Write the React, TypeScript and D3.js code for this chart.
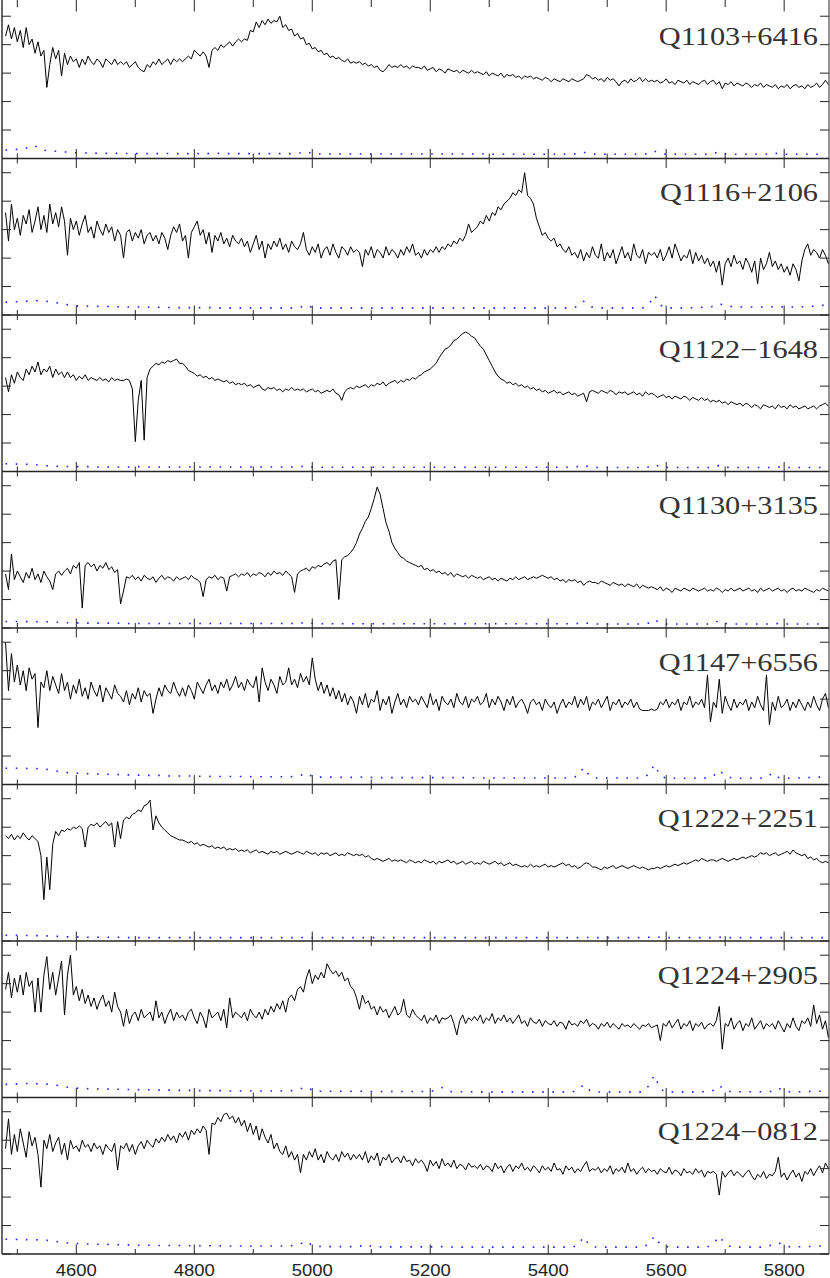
import React from 'react';
import * as d3 from 'd3';

const WIDTH = 830;
const HEIGHT = 1278;
const FLUX_START = 4480;
const FLUX_STEP = 5;
const ERR_START = 4480;
const ERR_STEP = 10;

const labels = ['Q1103+6416', 'Q1116+2106', 'Q1122\u22121648', 'Q1130+3135', 'Q1147+6556', 'Q1222+2251', 'Q1224+2905', 'Q1224\u22120812'];
const xTickLabels = [4600, 4800, 5000, 5200, 5400, 5600, 5800];
const yTickValues = [0, 1, 2, 3, 4, 5];

const flux_Q1103 = [
  4.3,4.7,4.2,4.6,4.1,4.5,3.9,4.6,4.0,4.2,3.7,4.1,3.6,3.8,2.5,3.3,3.9,3.5,3.8,2.9,
  3.7,3.3,3.6,3.4,3.5,3.2,3.5,3.3,3.6,3.4,3.3,3.5,3.4,3.2,3.5,3.4,3.3,3.5,3.3,3.4,
  3.3,3.4,3.2,3.3,3.4,3.2,3.1,3.05,3.3,3.2,3.4,3.3,3.5,3.3,3.4,3.5,3.3,3.5,3.4,3.5,
  3.4,3.5,3.6,3.5,3.8,3.7,3.6,3.75,3.6,3.2,3.8,3.9,3.8,4.0,3.9,4.0,4.1,3.95,4.1,4.2,
  4.1,4.2,4.15,4.5,4.45,4.8,4.6,4.85,4.7,4.9,4.75,4.85,4.8,5.0,4.6,4.7,4.5,4.55,4.3,4.4,
  4.2,4.25,4.0,4.05,3.85,3.9,3.75,3.8,3.65,3.7,3.55,3.6,3.5,3.55,3.45,3.4,3.5,3.35,3.4,3.35,
  3.4,3.3,3.35,3.25,3.3,3.2,3.25,3.1,3.05,3.15,3.3,3.2,3.25,3.2,3.3,3.2,3.25,3.15,3.25,3.2,
  3.2,3.15,3.25,3.1,3.15,3.2,3.05,3.15,3.1,3.0,3.15,3.1,3.05,3.1,3.0,3.1,3.05,3.0,3.1,3.0,
  3.05,3.0,2.95,3.05,2.9,3.0,2.95,2.9,3.0,2.85,2.95,2.9,2.95,2.85,2.9,2.8,2.9,2.85,2.9,2.8,
  2.85,2.8,2.75,2.85,2.8,2.7,2.8,2.75,2.7,2.8,2.75,2.7,2.8,2.75,2.7,2.75,2.8,2.95,2.9,2.8,
  2.85,2.75,2.8,2.7,2.85,2.75,2.8,2.7,2.55,2.7,2.75,2.65,2.8,2.7,2.75,2.85,2.7,2.8,2.7,2.75,
  2.7,2.75,2.65,2.7,2.8,2.65,2.7,2.6,2.75,2.7,2.65,2.75,2.6,2.7,2.65,2.6,2.7,2.75,2.6,2.7,
  2.75,2.6,2.7,2.45,2.65,2.6,2.7,2.55,2.65,2.6,2.55,2.65,2.6,2.5,2.6,2.55,2.65,2.5,2.6,2.55,
  2.5,2.6,2.45,2.55,2.5,2.6,2.45,2.55,2.6,2.5,2.55,2.45,2.6,2.5,2.55,2.65,2.5,2.6,2.75,2.6,
];

const flux_Q1116 = [
  3.6,2.6,3.9,3.0,3.4,2.8,3.5,3.2,3.7,2.9,3.3,3.8,3.0,3.5,2.9,3.9,3.2,3.6,3.1,3.8,
  3.3,2.1,3.4,3.0,3.3,2.8,3.2,3.5,2.9,3.1,2.7,3.3,3.0,2.8,3.2,2.9,3.1,2.6,3.0,2.8,
  2.0,2.9,3.0,2.6,2.9,2.7,3.0,2.5,2.8,2.9,2.6,2.8,2.5,2.9,2.7,2.3,2.8,3.1,2.9,3.2,
  2.6,2.8,2.0,2.9,3.1,3.3,2.8,3.0,2.5,2.9,2.2,2.8,2.6,2.9,2.5,2.7,2.4,2.8,2.6,2.5,
  2.7,2.4,2.6,2.2,2.5,2.8,2.3,2.6,2.0,2.5,2.3,2.6,2.4,2.7,2.3,2.5,2.2,2.6,2.4,2.3,
  2.5,2.9,2.3,2.1,2.4,2.2,2.5,2.0,2.3,2.4,2.1,2.5,2.2,2.0,2.4,2.3,2.1,2.4,2.2,2.3,
  2.2,1.7,2.3,2.1,2.4,2.0,2.3,2.2,2.0,2.4,2.1,2.3,2.2,2.0,2.3,2.1,2.4,2.2,2.5,2.1,
  2.2,2.0,2.3,2.1,2.3,2.2,2.4,2.2,2.4,2.3,2.5,2.4,2.6,2.5,2.7,2.6,2.8,3.2,2.9,3.0,
  3.1,3.3,3.2,3.5,3.3,3.6,3.5,3.8,3.7,3.9,4.0,4.1,4.3,4.2,4.4,4.3,5.0,4.2,4.1,3.9,
  3.4,3.1,2.8,2.9,2.7,2.6,2.7,2.4,2.5,2.3,2.2,2.4,2.1,2.2,2.0,2.3,1.9,2.2,2.0,2.4,
  2.1,2.0,2.5,1.9,2.2,2.0,2.3,1.8,2.1,2.4,2.0,2.2,1.9,2.5,2.1,2.0,2.3,1.8,2.2,2.1,
  2.2,2.0,2.3,1.9,2.1,2.4,2.0,2.5,2.2,1.9,2.1,2.0,2.3,1.8,2.2,1.9,2.1,1.8,2.0,1.7,
  1.9,1.5,1.9,1.05,1.8,2.0,1.7,2.1,1.8,1.9,1.6,2.0,1.8,1.5,1.9,1.1,2.0,1.6,1.8,2.2,
  1.7,1.9,1.6,1.8,1.5,1.7,1.4,1.8,1.6,1.2,1.9,2.3,2.5,2.1,2.3,2.2,2.0,2.3,2.1,1.8,
];

const flux_Q1122 = [
  3.3,2.8,3.4,3.1,3.5,3.3,3.2,3.6,3.4,3.7,3.5,3.85,3.4,3.6,3.5,3.7,3.3,3.6,3.4,3.5,
  3.3,3.5,3.3,3.4,3.2,3.35,3.25,3.4,3.2,3.3,3.25,3.2,3.3,3.2,3.25,3.15,3.3,3.2,3.25,3.2,
  3.2,3.25,3.2,2.9,1.05,2.5,3.2,1.1,3.3,3.6,3.7,3.8,3.75,3.85,3.8,3.9,3.85,3.9,3.95,3.8,
  3.8,3.7,3.55,3.5,3.45,3.35,3.4,3.3,3.35,3.25,3.3,3.2,3.25,3.2,3.15,3.2,3.1,3.15,3.05,3.1,
  3.05,3.1,3.0,3.05,2.95,3.0,3.05,2.9,2.85,2.95,2.9,2.95,2.85,2.9,2.8,2.9,2.85,2.95,2.85,2.9,
  2.85,2.9,2.8,2.85,2.9,2.8,2.85,2.75,2.8,2.85,2.8,2.9,2.75,2.7,2.5,2.8,2.9,2.95,2.9,3.0,
  2.95,3.0,3.05,2.95,3.05,3.0,3.1,3.05,3.15,3.0,3.1,3.15,3.2,3.1,3.2,3.15,3.25,3.2,3.3,3.25,
  3.35,3.4,3.5,3.55,3.6,3.7,3.8,4.0,4.15,4.3,4.35,4.45,4.6,4.65,4.75,4.85,4.9,4.85,4.75,4.7,
  4.55,4.4,4.3,4.1,3.9,3.7,3.5,3.35,3.25,3.2,3.1,3.15,3.05,3.1,3.0,3.05,2.95,3.0,2.9,2.95,
  2.85,2.9,2.8,2.85,2.75,2.8,2.85,2.75,2.8,2.7,2.75,2.8,2.7,2.75,2.65,2.7,2.75,2.45,2.8,2.85,
  2.8,2.75,2.85,2.8,2.75,2.85,2.8,2.7,2.8,2.75,2.8,2.7,2.75,2.8,2.7,2.75,2.65,2.8,2.7,2.75,
  2.7,2.6,2.65,2.7,2.6,2.65,2.55,2.65,2.6,2.55,2.65,2.6,2.5,2.6,2.55,2.5,2.6,2.5,2.55,2.45,
  2.5,2.45,2.5,2.4,2.45,2.35,2.45,2.4,2.35,2.4,2.3,2.4,2.35,2.25,2.35,2.3,2.2,2.35,2.3,2.25,
  2.3,2.2,2.35,2.25,2.3,2.2,2.35,2.25,2.3,2.2,2.25,2.3,2.2,2.25,2.3,2.2,2.3,2.35,2.4,2.3,
];

const flux_Q1130 = [
  1.9,1.35,2.6,1.7,2.0,1.8,1.6,1.95,1.75,2.1,1.7,1.9,1.6,2.0,1.8,1.65,1.35,1.9,2.0,1.85,
  2.0,2.1,1.9,2.2,2.1,2.3,0.7,2.2,2.3,2.15,2.25,2.0,2.2,2.1,2.3,2.05,2.15,1.95,2.05,0.85,
  1.3,1.8,1.75,1.85,1.7,1.8,1.65,1.85,1.75,1.7,1.8,1.6,1.75,1.85,1.7,1.8,1.75,1.65,1.8,1.7,
  1.75,1.8,1.7,1.85,1.75,1.7,1.6,1.1,1.7,1.8,1.75,1.85,1.7,1.8,1.75,1.3,1.8,1.85,1.9,1.8,
  1.9,1.85,1.95,1.8,1.9,1.85,1.95,1.9,1.8,1.95,1.85,2.0,1.9,1.95,1.85,2.0,1.9,1.8,1.25,1.9,
  2.0,2.05,2.1,2.0,2.15,2.1,2.2,2.15,2.25,2.3,2.2,2.35,2.4,1.0,2.4,2.5,2.55,2.65,2.8,3.0,
  3.3,3.5,3.75,3.9,4.2,4.55,4.95,4.7,4.2,3.7,3.4,3.0,2.8,2.65,2.5,2.45,2.35,2.3,2.25,2.2,
  2.15,2.2,2.05,2.1,2.0,2.05,1.95,2.0,1.9,1.95,1.85,1.95,1.8,1.9,1.85,1.8,1.85,1.75,1.85,1.8,
  1.75,1.8,1.7,1.75,1.8,1.7,1.75,1.65,1.75,1.7,1.65,1.75,1.7,1.8,1.7,1.75,1.8,1.7,1.75,1.8,
  1.75,1.8,1.85,1.8,1.75,1.8,1.7,1.75,1.65,1.7,1.6,1.7,1.65,1.7,1.6,1.65,1.5,1.6,1.65,1.6,
  1.6,1.55,1.65,1.6,1.55,1.5,1.6,1.55,1.5,1.55,1.45,1.55,1.5,1.45,1.55,1.4,1.5,1.45,1.4,1.45,
  1.4,1.35,1.45,1.3,1.4,1.35,1.25,1.4,1.35,1.3,1.4,1.35,1.3,1.4,1.35,1.3,1.35,1.4,1.3,1.35,
  1.3,1.4,1.35,1.25,1.35,1.3,1.4,1.3,1.35,1.4,1.3,1.35,1.4,1.3,1.35,1.25,1.4,1.3,1.35,1.4,
  1.3,1.35,1.4,1.3,1.35,1.25,1.35,1.4,1.3,1.35,1.3,1.4,1.35,1.3,1.25,1.35,1.3,1.4,1.35,1.3,
];

const flux_Q1147 = [
  5.0,3.3,4.6,3.6,4.2,3.5,4.0,3.3,4.1,3.7,3.9,2.0,3.6,3.4,4.0,3.3,3.8,3.5,3.2,3.9,
  3.3,3.6,3.0,3.5,3.2,3.7,3.1,3.4,3.0,3.6,3.3,3.1,3.5,2.9,3.4,3.2,3.0,3.5,3.2,3.1,
  2.9,3.3,2.8,3.2,3.0,3.4,2.9,3.3,3.1,3.2,2.5,3.0,3.4,3.1,3.5,3.3,3.2,3.6,3.3,3.1,
  3.4,3.1,3.5,3.3,3.0,3.6,3.4,3.2,3.5,3.7,3.3,3.5,3.2,3.6,3.4,3.7,3.3,3.5,3.8,3.4,
  3.6,3.3,3.7,3.5,3.4,3.8,2.9,4.1,3.6,3.3,3.7,3.5,3.2,3.8,3.5,3.6,4.1,3.5,3.7,3.4,
  3.9,3.6,3.8,3.5,4.45,3.7,3.3,3.6,3.2,3.5,3.1,3.4,3.0,3.3,2.9,3.2,2.8,3.1,2.9,2.5,
  3.1,2.8,3.2,2.7,3.0,2.9,3.3,2.6,3.0,2.8,3.1,2.5,2.9,3.2,2.8,3.0,2.7,3.1,2.9,3.0,
  2.8,3.1,2.9,2.7,3.2,2.8,3.0,2.6,3.1,2.9,2.8,3.0,2.7,3.2,2.9,2.8,3.1,2.7,3.0,2.9,
  3.1,2.8,2.9,3.2,2.7,3.0,2.8,3.1,2.9,2.6,3.0,2.8,3.1,2.7,2.9,3.0,2.8,2.5,2.9,3.0,
  2.8,2.9,2.6,3.0,2.8,2.7,2.9,2.5,2.8,3.0,2.7,2.9,2.8,3.1,2.7,3.0,2.8,3.1,2.6,2.9,
  2.8,3.0,2.7,2.9,3.1,2.6,2.9,2.8,3.0,2.7,2.9,2.8,3.0,2.7,2.9,2.65,2.6,2.6,2.6,2.65,
  2.6,2.65,2.9,2.8,3.0,2.7,2.9,2.8,3.0,2.6,2.9,2.8,3.1,2.7,2.9,2.8,3.0,2.7,3.85,2.2,
  2.9,2.7,3.7,2.5,3.1,2.8,2.6,3.0,2.7,2.9,2.8,3.0,2.6,2.9,2.7,3.1,2.8,2.6,3.85,2.1,
  2.9,2.6,3.1,2.7,2.8,3.0,2.6,2.9,2.7,3.0,2.8,2.6,2.9,2.7,3.1,2.8,2.6,3.0,3.2,2.7,
];

const flux_Q1222 = [
  3.7,3.6,3.75,3.55,3.7,3.6,3.8,3.65,3.55,3.7,3.6,3.5,3.0,1.45,2.95,1.8,3.4,3.85,3.7,3.9,
  3.85,3.95,3.9,4.0,3.95,4.05,3.95,3.3,4.0,4.1,4.05,4.15,4.0,4.1,4.2,4.05,4.15,3.3,4.2,3.6,
  4.25,4.35,4.3,4.45,4.5,4.6,4.55,4.75,4.8,4.95,3.9,4.4,4.15,4.0,3.9,3.8,3.7,3.65,3.6,3.55,
  3.55,3.5,3.45,3.5,3.4,3.45,3.35,3.4,3.35,3.3,3.35,3.25,3.3,3.25,3.3,3.2,3.25,3.2,3.25,3.15,
  3.2,3.15,3.2,3.1,3.15,3.2,3.1,3.15,3.1,3.05,3.15,3.1,3.15,3.05,3.1,3.15,3.1,3.05,3.1,3.15,
  3.1,3.05,3.15,3.1,3.05,3.1,3.0,3.1,3.05,3.1,3.0,3.05,3.1,3.0,3.05,3.0,3.1,3.05,3.0,3.05,
  3.0,3.05,2.95,3.0,2.9,2.85,2.9,2.85,2.8,2.85,2.9,2.8,2.85,2.8,2.85,2.8,2.75,2.85,2.8,2.75,
  2.8,2.75,2.85,2.8,2.75,2.8,2.7,2.8,2.75,2.8,2.85,2.75,2.8,2.7,2.75,2.8,2.7,2.75,2.8,2.7,
  2.75,2.7,2.8,2.75,2.7,2.75,2.8,2.7,2.75,2.65,2.7,2.75,2.65,2.7,2.65,2.6,2.65,2.6,2.7,2.6,
  2.65,2.6,2.65,2.7,2.6,2.65,2.6,2.65,2.7,2.75,2.65,2.7,2.6,2.65,2.55,2.6,2.7,2.75,2.7,2.6,
  2.6,2.55,2.5,2.6,2.55,2.6,2.65,2.55,2.6,2.65,2.6,2.55,2.6,2.65,2.6,2.55,2.6,2.55,2.5,2.55,
  2.55,2.6,2.55,2.6,2.65,2.6,2.65,2.7,2.65,2.7,2.75,2.7,2.75,2.8,2.85,2.8,2.9,2.85,2.8,2.85,
  2.85,2.8,2.85,2.9,2.85,2.8,2.85,2.9,2.85,2.9,2.95,2.9,2.95,3.0,2.95,3.0,3.1,3.05,3.1,3.0,
  3.05,3.1,3.0,3.05,3.1,3.15,3.05,3.2,3.1,3.05,3.0,3.05,2.9,2.95,2.85,2.9,2.8,2.75,2.8,2.75,
];

const flux_Q1224a = [
  3.8,4.4,3.5,4.2,3.7,4.3,3.6,4.4,3.9,4.1,3.0,4.2,3.0,4.3,4.95,3.8,4.4,3.6,4.2,4.8,
  2.9,4.3,5.0,3.6,3.9,3.4,3.8,3.3,3.6,3.2,3.5,3.1,3.4,3.6,3.2,3.4,3.0,3.7,3.2,3.0,
  2.5,3.1,2.6,2.9,3.0,2.7,3.1,2.8,2.9,3.0,2.7,3.4,2.8,3.0,2.6,2.9,3.1,2.7,3.0,2.8,
  2.9,2.7,3.0,3.1,2.8,2.6,3.0,2.8,2.45,3.1,2.8,2.9,3.0,2.7,3.1,2.45,3.5,2.8,3.0,2.9,
  2.8,3.0,2.7,3.1,2.9,2.8,3.0,2.75,3.1,2.9,3.2,3.0,3.3,3.1,3.4,3.0,3.5,3.6,3.4,3.8,
  3.9,3.7,4.2,4.5,4.0,4.3,4.15,4.4,4.2,4.7,4.5,4.35,4.45,4.25,4.4,4.1,4.2,3.9,3.8,3.5,
  3.1,3.6,3.3,3.4,3.1,3.2,2.9,3.2,3.0,3.1,2.8,3.0,3.2,2.9,3.0,3.45,2.9,2.8,3.1,2.9,
  2.8,2.7,2.9,2.6,2.8,2.7,2.9,2.6,2.8,2.75,2.8,2.9,2.6,2.2,2.7,2.9,2.6,2.8,2.7,2.85,
  2.7,2.9,2.6,2.8,2.7,2.95,2.6,2.8,2.7,2.9,2.65,2.8,2.6,2.75,2.9,2.6,2.7,2.5,2.8,2.65,
  2.6,2.75,2.5,2.7,2.6,2.55,2.7,2.5,2.65,2.6,2.4,2.7,2.55,2.6,2.5,2.7,2.6,2.75,2.5,2.6,
  2.55,2.4,2.6,2.5,2.65,2.45,2.6,2.5,2.4,2.6,2.5,2.55,2.45,2.6,2.5,2.4,2.55,2.5,2.6,2.45,
  2.5,2.55,2.0,2.6,2.5,2.7,2.45,2.6,2.75,2.4,2.6,2.5,2.7,2.35,2.6,2.5,2.65,2.4,2.55,2.6,
  2.5,2.7,3.2,1.7,2.6,2.5,2.8,2.4,2.6,2.7,2.35,2.6,2.5,2.8,2.4,2.55,2.7,2.4,2.6,2.5,
  2.6,2.4,2.7,2.5,2.3,2.6,2.45,2.8,2.5,2.35,2.7,2.6,2.8,2.5,3.25,2.6,2.9,2.4,2.7,2.1,
];

const flux_Q1224b = [
  3.7,4.75,3.5,4.2,3.6,4.4,3.9,3.4,4.3,3.8,4.1,3.5,2.35,4.0,3.7,4.2,3.6,3.9,4.1,3.5,
  3.9,3.3,4.0,3.7,3.8,3.6,4.0,3.75,3.85,3.6,3.9,3.7,3.8,3.5,3.85,3.7,3.6,3.9,2.95,3.8,
  3.7,3.9,3.6,3.85,3.5,3.8,3.95,3.7,4.0,3.85,3.75,4.05,3.9,4.1,3.95,4.2,4.0,4.15,3.9,4.25,
  4.1,4.3,4.0,4.35,4.2,4.4,4.25,4.5,4.35,3.5,4.6,4.55,4.8,4.65,4.9,4.95,4.75,4.85,4.6,4.8,
  4.5,4.7,4.3,4.6,4.2,4.5,4.0,4.4,4.1,3.9,4.2,3.7,3.9,3.6,3.5,3.8,3.4,3.6,3.3,3.5,
  2.85,3.5,3.3,3.6,3.4,3.7,3.3,3.5,3.2,3.6,3.4,3.3,3.5,3.25,3.6,3.4,3.55,3.3,3.5,3.35,
  3.5,3.3,3.6,3.2,3.45,3.3,3.55,3.1,3.4,3.3,3.5,3.2,3.35,3.4,3.2,3.45,3.25,3.3,3.1,3.35,
  3.2,3.3,3.15,2.9,3.3,3.1,3.25,3.0,3.35,3.1,3.2,3.05,3.3,3.0,3.15,3.1,2.95,3.2,3.05,3.1,
  3.0,3.15,2.95,3.1,3.05,2.9,3.2,3.0,3.1,2.85,3.05,3.15,2.9,3.1,3.0,3.2,2.95,3.05,2.9,3.1,
  3.0,2.85,3.1,2.95,3.05,2.9,3.2,2.95,3.0,2.8,3.1,2.95,3.05,2.85,3.0,2.9,3.1,3.25,2.9,3.0,
  2.95,3.05,2.85,3.0,2.9,3.1,2.8,3.0,2.9,3.05,2.85,3.2,2.9,3.0,2.8,2.95,3.05,2.85,3.0,2.9,
  2.95,2.8,3.0,2.9,2.85,3.05,2.8,2.95,2.9,2.75,3.0,2.85,2.9,2.8,3.0,2.85,2.95,2.7,2.9,2.85,
  2.9,2.8,2.07,2.9,2.7,2.85,2.95,2.75,2.9,2.8,2.7,2.85,2.95,2.75,2.6,2.8,2.7,2.9,2.65,2.8,
  2.75,2.9,3.4,2.7,2.85,2.6,2.8,2.95,2.7,2.85,2.55,2.9,2.8,3.0,2.75,2.95,3.1,2.85,3.2,3.0,
];

const err_Q1103 = [
  0.3,0.3,0.32,0.33,0.4,0.45,0.3,0.28,0.26,0.25,0.23,0.22,0.2,0.2,0.19,0.19,0.18,0.18,0.18,0.18,
  0.18,0.17,0.17,0.18,0.17,0.17,0.17,0.18,0.17,0.17,0.17,0.17,0.18,0.17,0.17,0.17,0.18,0.17,0.17,0.17,
  0.17,0.17,0.17,0.17,0.17,0.17,0.17,0.17,0.17,0.17,0.2,0.25,0.17,0.16,0.16,0.16,0.16,0.16,0.16,0.16,
  0.16,0.16,0.16,0.16,0.16,0.16,0.16,0.16,0.16,0.16,0.16,0.16,0.16,0.16,0.16,0.16,0.16,0.16,0.16,0.16,
  0.16,0.16,0.15,0.15,0.15,0.15,0.15,0.15,0.15,0.15,0.15,0.15,0.15,0.15,0.15,0.15,0.15,0.17,0.22,0.16,
  0.15,0.15,0.15,0.15,0.15,0.15,0.15,0.15,0.15,0.17,0.26,0.17,0.15,0.15,0.15,0.15,0.15,0.15,0.15,0.15,
  0.17,0.24,0.17,0.15,0.15,0.15,0.15,0.15,0.15,0.15,0.15,0.19,0.15,0.15,0.15,0.15,0.15,0.15,0.15,0.15,
];

const err_Q1116 = [
  0.45,0.46,0.47,0.48,0.49,0.5,0.5,0.48,0.45,0.42,0.38,0.34,0.32,0.32,0.31,0.31,0.3,0.3,0.3,0.29,
  0.29,0.28,0.28,0.28,0.27,0.3,0.27,0.27,0.26,0.26,0.26,0.26,0.26,0.26,0.26,0.26,0.25,0.25,0.25,0.25,
  0.25,0.25,0.25,0.25,0.25,0.25,0.25,0.25,0.25,0.25,0.28,0.36,0.26,0.24,0.24,0.24,0.24,0.24,0.24,0.24,
  0.24,0.24,0.24,0.24,0.24,0.24,0.24,0.24,0.24,0.24,0.24,0.24,0.24,0.24,0.24,0.24,0.24,0.24,0.24,0.24,
  0.24,0.24,0.24,0.24,0.24,0.24,0.24,0.24,0.24,0.24,0.24,0.24,0.24,0.24,0.24,0.24,0.24,0.3,0.48,0.3,
  0.26,0.25,0.25,0.25,0.25,0.25,0.25,0.25,0.25,0.35,0.7,0.35,0.25,0.25,0.25,0.25,0.25,0.26,0.27,0.28,
  0.3,0.4,0.32,0.3,0.29,0.28,0.28,0.28,0.28,0.28,0.29,0.3,0.28,0.28,0.28,0.29,0.3,0.31,0.33,0.35,
];

const err_Q1122 = [
  0.27,0.27,0.26,0.26,0.25,0.24,0.22,0.2,0.19,0.18,0.18,0.17,0.17,0.17,0.17,0.16,0.16,0.16,0.16,0.16,
  0.16,0.16,0.18,0.16,0.16,0.16,0.16,0.16,0.16,0.16,0.16,0.16,0.16,0.16,0.16,0.16,0.16,0.16,0.16,0.16,
  0.16,0.16,0.16,0.16,0.16,0.16,0.16,0.16,0.16,0.16,0.17,0.2,0.16,0.15,0.15,0.15,0.15,0.15,0.15,0.15,
  0.15,0.15,0.15,0.15,0.15,0.15,0.15,0.15,0.15,0.15,0.15,0.15,0.15,0.15,0.15,0.15,0.15,0.15,0.15,0.15,
  0.15,0.15,0.15,0.15,0.15,0.15,0.15,0.15,0.15,0.15,0.15,0.15,0.15,0.15,0.15,0.15,0.15,0.17,0.22,0.16,
  0.14,0.14,0.14,0.14,0.14,0.14,0.14,0.14,0.14,0.16,0.25,0.16,0.14,0.14,0.14,0.14,0.14,0.14,0.14,0.14,
  0.15,0.22,0.15,0.14,0.14,0.14,0.14,0.14,0.14,0.14,0.14,0.16,0.14,0.14,0.14,0.14,0.14,0.14,0.14,0.14,
];

const err_Q1130 = [
  0.23,0.23,0.23,0.23,0.22,0.22,0.22,0.22,0.21,0.2,0.19,0.18,0.18,0.17,0.17,0.17,0.17,0.17,0.17,0.17,
  0.16,0.16,0.16,0.16,0.16,0.16,0.16,0.16,0.16,0.16,0.16,0.16,0.16,0.16,0.16,0.16,0.16,0.16,0.16,0.16,
  0.16,0.16,0.16,0.16,0.16,0.16,0.16,0.16,0.16,0.16,0.17,0.2,0.16,0.15,0.15,0.15,0.15,0.15,0.15,0.15,
  0.15,0.15,0.15,0.15,0.15,0.15,0.15,0.15,0.15,0.15,0.15,0.15,0.15,0.15,0.15,0.15,0.15,0.15,0.15,0.15,
  0.15,0.15,0.15,0.15,0.15,0.15,0.15,0.15,0.15,0.15,0.15,0.15,0.15,0.15,0.15,0.15,0.15,0.16,0.2,0.15,
  0.14,0.14,0.14,0.14,0.14,0.14,0.14,0.14,0.14,0.17,0.3,0.17,0.14,0.14,0.14,0.14,0.14,0.14,0.14,0.14,
  0.16,0.27,0.16,0.14,0.14,0.14,0.14,0.14,0.14,0.14,0.14,0.16,0.14,0.14,0.14,0.14,0.14,0.14,0.14,0.14,
];

const err_Q1147 = [
  0.57,0.57,0.57,0.57,0.56,0.56,0.55,0.53,0.5,0.46,0.43,0.41,0.4,0.39,0.38,0.37,0.37,0.36,0.35,0.35,
  0.34,0.34,0.33,0.33,0.32,0.32,0.32,0.31,0.3,0.3,0.3,0.3,0.29,0.29,0.29,0.28,0.28,0.28,0.28,0.28,
  0.28,0.28,0.27,0.27,0.27,0.27,0.27,0.27,0.27,0.28,0.32,0.4,0.28,0.26,0.26,0.26,0.26,0.25,0.25,0.25,
  0.25,0.28,0.25,0.24,0.24,0.24,0.24,0.24,0.24,0.24,0.24,0.24,0.24,0.24,0.24,0.24,0.24,0.24,0.24,0.24,
  0.23,0.23,0.23,0.23,0.23,0.23,0.23,0.23,0.23,0.23,0.23,0.23,0.23,0.23,0.23,0.23,0.24,0.3,0.6,0.3,
  0.23,0.23,0.23,0.23,0.23,0.23,0.23,0.23,0.23,0.35,0.7,0.3,0.22,0.22,0.22,0.22,0.22,0.22,0.22,0.23,
  0.3,0.5,0.3,0.24,0.22,0.22,0.22,0.22,0.22,0.25,0.4,0.25,0.22,0.22,0.23,0.23,0.24,0.25,0.26,0.27,
];

const err_Q1222 = [
  0.2,0.2,0.2,0.2,0.19,0.19,0.19,0.18,0.17,0.16,0.15,0.14,0.14,0.13,0.13,0.13,0.13,0.13,0.13,0.13,
  0.12,0.12,0.12,0.12,0.12,0.12,0.12,0.12,0.12,0.12,0.12,0.12,0.12,0.12,0.12,0.12,0.12,0.12,0.12,0.12,
  0.12,0.12,0.12,0.12,0.12,0.12,0.12,0.12,0.12,0.12,0.12,0.13,0.12,0.12,0.12,0.12,0.12,0.12,0.12,0.12,
  0.12,0.12,0.12,0.12,0.12,0.12,0.12,0.12,0.12,0.12,0.12,0.12,0.12,0.12,0.12,0.12,0.12,0.12,0.12,0.12,
  0.12,0.12,0.12,0.12,0.12,0.12,0.12,0.12,0.12,0.12,0.12,0.12,0.12,0.12,0.12,0.12,0.12,0.12,0.13,0.12,
  0.12,0.12,0.12,0.12,0.12,0.12,0.12,0.12,0.12,0.13,0.16,0.13,0.12,0.12,0.12,0.12,0.12,0.12,0.12,0.12,
  0.12,0.13,0.12,0.12,0.12,0.12,0.12,0.12,0.12,0.12,0.12,0.12,0.12,0.12,0.12,0.12,0.12,0.12,0.12,0.12,
];

const err_Q1224a = [
  0.46,0.47,0.48,0.49,0.49,0.49,0.48,0.47,0.45,0.42,0.38,0.35,0.33,0.32,0.31,0.3,0.3,0.3,0.29,0.29,
  0.28,0.28,0.28,0.27,0.27,0.27,0.26,0.26,0.26,0.25,0.25,0.25,0.25,0.24,0.24,0.24,0.24,0.24,0.23,0.23,
  0.23,0.23,0.23,0.23,0.23,0.23,0.23,0.23,0.23,0.25,0.3,0.38,0.25,0.22,0.22,0.22,0.22,0.22,0.22,0.22,
  0.22,0.22,0.21,0.21,0.21,0.21,0.21,0.21,0.21,0.21,0.21,0.21,0.21,0.26,0.35,0.22,0.2,0.2,0.2,0.2,
  0.19,0.19,0.19,0.19,0.19,0.19,0.19,0.19,0.19,0.19,0.19,0.19,0.19,0.19,0.19,0.19,0.19,0.26,0.45,0.25,
  0.2,0.19,0.19,0.19,0.19,0.19,0.19,0.19,0.19,0.4,0.78,0.3,0.19,0.19,0.19,0.19,0.19,0.19,0.2,0.2,
  0.25,0.42,0.25,0.2,0.2,0.2,0.2,0.2,0.2,0.2,0.22,0.33,0.22,0.2,0.2,0.2,0.21,0.22,0.22,0.23,
];

const err_Q1224b = [
  0.52,0.52,0.51,0.51,0.5,0.5,0.49,0.48,0.46,0.43,0.4,0.38,0.37,0.36,0.35,0.35,0.34,0.34,0.33,0.33,
  0.32,0.32,0.31,0.31,0.31,0.3,0.3,0.3,0.3,0.3,0.3,0.29,0.29,0.29,0.29,0.29,0.29,0.28,0.28,0.28,
  0.28,0.28,0.28,0.28,0.28,0.28,0.28,0.28,0.28,0.3,0.36,0.45,0.3,0.27,0.26,0.26,0.26,0.26,0.26,0.26,
  0.27,0.34,0.27,0.25,0.25,0.25,0.25,0.25,0.25,0.25,0.25,0.25,0.25,0.25,0.26,0.25,0.24,0.24,0.24,0.24,
  0.24,0.24,0.24,0.24,0.24,0.24,0.24,0.24,0.24,0.24,0.24,0.24,0.24,0.24,0.24,0.24,0.24,0.3,0.6,0.3,
  0.25,0.24,0.24,0.24,0.24,0.24,0.24,0.24,0.24,0.35,0.63,0.33,0.26,0.24,0.24,0.24,0.24,0.24,0.24,0.25,
  0.35,0.63,0.35,0.25,0.24,0.24,0.24,0.24,0.24,0.27,0.32,0.4,0.3,0.25,0.25,0.26,0.26,0.27,0.28,0.29,
];

const spectra = [flux_Q1103, flux_Q1116, flux_Q1122, flux_Q1130, flux_Q1147, flux_Q1222, flux_Q1224a, flux_Q1224b];
const errors = [err_Q1103, err_Q1116, err_Q1122, err_Q1130, err_Q1147, err_Q1222, err_Q1224a, err_Q1224b];

const PLOT_LEFT = 2;
const PLOT_RIGHT = 829;
const PANEL_TOP = 2;
const PANEL_H = 156.5;
const AXIS_COLOR = '#262626';

export default function App() {
  const x = d3.scaleLinear().domain([4474, 5876]).range([PLOT_LEFT, PLOT_RIGHT]);
  const tickVals = d3.range(4500, 5801, 100);

  const panels = labels.map((label, i) => {
    const top = PANEL_TOP + i * PANEL_H;
    const bottom = top + PANEL_H;
    const y = d3.scaleLinear().domain([0, 5.5]).range([bottom, top]);
    const fluxLine = d3.line<number>()
      .x((_, j) => x(FLUX_START + j * FLUX_STEP))
      .y((d) => y(d))
      .curve(d3.curveLinear);
    const errLine = d3.line<number>()
      .x((_, j) => x(ERR_START + j * ERR_STEP))
      .y((d) => y(d))
      .curve(d3.curveLinear);
    return { label, top, bottom, y, fluxPath: fluxLine(spectra[i]) || '', errPath: errLine(errors[i]) || '' };
  });

  const last = panels[panels.length - 1];

  return (
    <svg width={WIDTH} height={HEIGHT} viewBox={`0 0 ${WIDTH} ${HEIGHT}`}
      style={{ position: 'absolute', left: 0, top: 0, background: '#fff' }}>
      <rect x={0} y={0} width={WIDTH} height={HEIGHT} fill="#fff" />
      <defs>
        {panels.map((p, i) => (
          <clipPath id={`clip${i}`} key={i}>
            <rect x={PLOT_LEFT} y={p.top} width={PLOT_RIGHT - PLOT_LEFT} height={PANEL_H} />
          </clipPath>
        ))}
      </defs>
      {panels.map((p, i) => (
        <g key={i}>
          <path d={p.errPath} fill="none" stroke="#1f1fff" strokeWidth={1.6}
            strokeDasharray="1.6 8.6" clipPath={`url(#clip${i})`} />
          <path d={p.fluxPath} fill="none" stroke="#000" strokeWidth={1}
            strokeLinejoin="miter" clipPath={`url(#clip${i})`} />
          <line x1={PLOT_LEFT} x2={PLOT_RIGHT} y1={p.bottom} y2={p.bottom} stroke={AXIS_COLOR} strokeWidth={1.4} />
          {tickVals.map((t) => {
            const major = t % 200 === 0;
            const len = major ? 9.5 : 5;
            const tx = x(t);
            const topStart = i === 0 ? 0 : p.top;
            return (
              <g key={t}>
                <line x1={tx} x2={tx} y1={topStart} y2={p.top + len} stroke={AXIS_COLOR} strokeWidth={1} />
                <line x1={tx} x2={tx} y1={p.bottom} y2={p.bottom - len} stroke={AXIS_COLOR} strokeWidth={1} />
              </g>
            );
          })}
          {yTickValues.map((v) => (
            <g key={v}>
              <line x1={PLOT_LEFT} x2={PLOT_LEFT + 9} y1={p.y(v)} y2={p.y(v)} stroke={AXIS_COLOR} strokeWidth={1} />
              <line x1={PLOT_RIGHT} x2={PLOT_RIGHT - 9} y1={p.y(v)} y2={p.y(v)} stroke={AXIS_COLOR} strokeWidth={1} />
            </g>
          ))}
          <text transform={`translate(818, ${p.top + 42.7}) scale(1.19, 1)`} textAnchor="end"
            fontFamily="'Liberation Serif', 'DejaVu Serif', serif" fontSize={25.5} fill="#333">
            {p.label}
          </text>
        </g>
      ))}
      <line x1={PLOT_LEFT} x2={PLOT_LEFT} y1={0} y2={last.bottom} stroke={AXIS_COLOR} strokeWidth={1.4} />
      <line x1={PLOT_RIGHT} x2={PLOT_RIGHT} y1={0} y2={last.bottom} stroke={AXIS_COLOR} strokeWidth={1} />
      {xTickLabels.map((t) => (
        <text key={t} transform={`translate(${x(t)}, 1275.5) scale(1.12, 1)`} textAnchor="middle"
          fontFamily="'Liberation Sans', Arial, sans-serif" fontSize={16.5} fill="#222">
          {t}
        </text>
      ))}
    </svg>
  );
}
